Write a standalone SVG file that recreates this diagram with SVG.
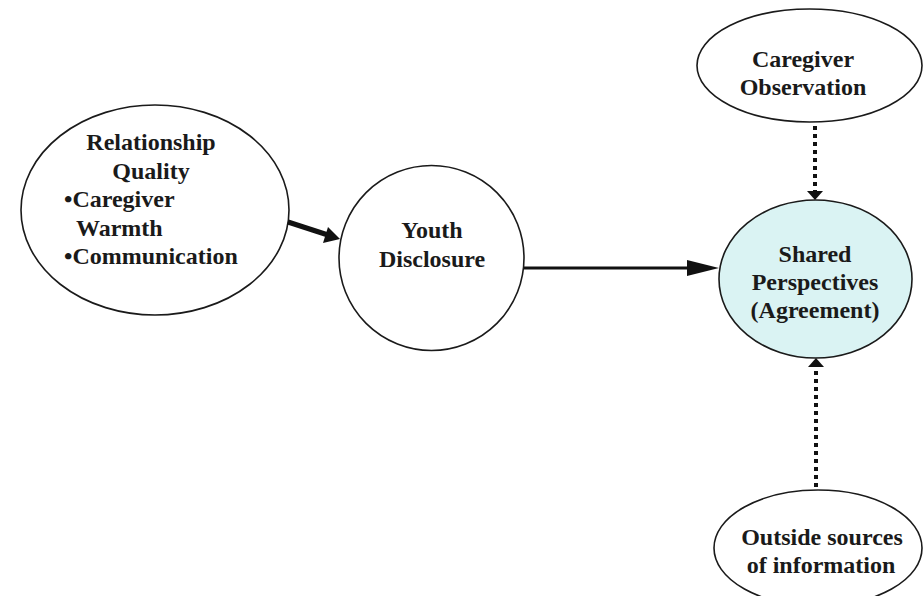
<svg xmlns="http://www.w3.org/2000/svg" width="923" height="596" viewBox="0 0 923 596">
<defs>
<style>
.node{fill:#ffffff;stroke:#1a1a1a;stroke-width:1.6}
.shared{fill:#daf3f3;stroke:#1a1a1a;stroke-width:1.6}
text{font-family:"Liberation Serif","Times New Roman",serif;font-weight:bold;font-size:24px;fill:#1a1a1a}
.c{text-anchor:middle}
.solid{stroke:#111;fill:none}
.dash{stroke:#111;fill:none;stroke-width:4;stroke-dasharray:4 4}
</style>
<marker id="ah" viewBox="0 0 10 10" refX="10" refY="5" markerWidth="10" markerHeight="10" markerUnits="userSpaceOnUse" orient="auto">
<path d="M0,0 L10,5 L0,10 z" fill="#111"/>
</marker>
</defs>
<rect width="923" height="596" fill="#ffffff"/>
<g id="relationship-quality">
<ellipse class="node" cx="155" cy="210" rx="134" ry="105"/>
<text class="c" x="151" y="150">Relationship</text>
<text class="c" x="151" y="178.5">Quality</text>
<text x="64" y="207">•Caregiver</text>
<text x="76" y="235.5">Warmth</text>
<text x="64" y="264">•Communication</text>
</g>
<g id="youth-disclosure">
<circle class="node" cx="431.5" cy="258" r="92.5"/>
<text class="c" x="432" y="238">Youth</text>
<text class="c" x="432" y="267">Disclosure</text>
</g>
<g id="shared-perspectives">
<ellipse class="shared" cx="815.5" cy="279" rx="96.5" ry="79"/>
<text class="c" x="815" y="262">Shared</text>
<text class="c" x="815" y="290">Perspectives</text>
<text class="c" x="815" y="318">(Agreement)</text>
</g>
<g id="caregiver-observation">
<ellipse class="node" cx="809.5" cy="65.5" rx="112.5" ry="56.5"/>
<text class="c" x="803" y="67">Caregiver</text>
<text class="c" x="803" y="95">Observation</text>
</g>
<g id="outside-sources">
<ellipse class="node" cx="818" cy="548" rx="104" ry="58"/>
<text class="c" x="822" y="545">Outside sources</text>
<text class="c" x="821" y="573">of information</text>
</g>
<g id="connectors">
<line class="solid" x1="288" y1="222" x2="328" y2="235" stroke-width="5"/>
<path d="M340,239 L323,243 L328,227 z" fill="#111"/>
<line class="solid" x1="524" y1="268" x2="690" y2="268" stroke-width="3"/>
<path d="M719,268 L687,260 L687,276 z" fill="#111"/>
<line class="dash" x1="815" y1="126" x2="815" y2="192"/>
<path d="M815,200 L807,191 L823,191 z" fill="#111"/>
<line class="dash" x1="816" y1="487" x2="816" y2="367"/>
<path d="M816,358 L808,367 L824,367 z" fill="#111"/>
</g>
</svg>
